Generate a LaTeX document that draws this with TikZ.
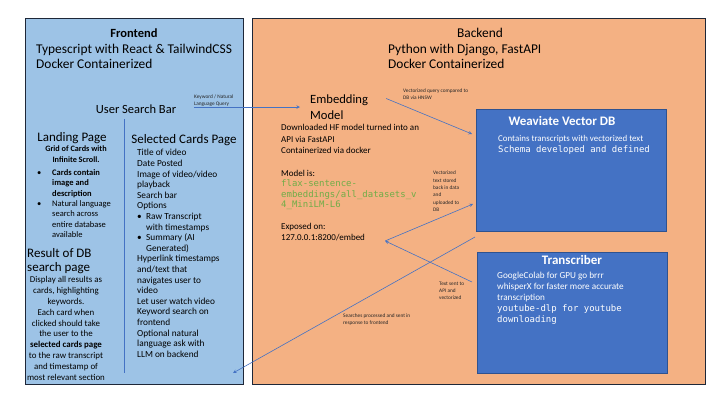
\documentclass[tikz,border=0pt]{standalone}
\usepackage{fontspec}
\setmainfont{Carlito}
\setmonofont{DejaVu Sans Mono}
\usetikzlibrary{positioning}
\usetikzlibrary{arrows}

\definecolor{frontblue}{RGB}{157,195,230}
\definecolor{backorange}{RGB}{244,177,131}
\definecolor{boxblue}{RGB}{68,114,196}
\definecolor{boxedge}{RGB}{47,82,143}
\definecolor{paneledge}{RGB}{30,39,56}
\definecolor{codegreen}{RGB}{112,173,71}

\tikzset{
  panel/.style={draw=paneledge, line width=0.9pt, inner sep=0pt, outer sep=0pt, anchor=north west},
  service/.style={draw=boxedge, fill=boxblue, line width=0.9pt, inner sep=0pt, outer sep=0pt, anchor=north west},
  flow/.style={-stealth, draw=boxblue, line width=0.6pt},
  divider/.style={draw=boxblue, line width=0.7pt},
  heading/.style={inner sep=0pt, font=\fontsize{13.4}{14.8}\selectfont},
  pagehead/.style={inner sep=0pt, font=\fontsize{13}{15}\selectfont},
  bodytext/.style={inner sep=0pt, align=left, anchor=north west, font=\fontsize{8.5}{10.6}\selectfont},
  codetext/.style={inner sep=0pt, align=left, anchor=north west, font=\ttfamily\fontsize{9}{10.5}\selectfont},
  tinytext/.style={inner sep=0pt, align=left, anchor=north west, text=black!85, font=\fontsize{5.3}{6.6}\selectfont}
}

\begin{document}
\begin{tikzpicture}[x=1pt,y=-1pt]
\useasboundingbox (0,0) rectangle (720,405);

% Frontend panel
\node[panel,
    fill=frontblue,
    minimum width=218pt,
    minimum height=366pt
    ] (frontend) at (25,18) {};

% Backend panel
\node[panel,
    fill=backorange,
    minimum width=453pt,
    minimum height=366pt
    ] (backend) at (252,18) {};

% Weaviate
\node[service,
    minimum width=190pt,
    minimum height=122pt
    ] (weaviate) at (476,109) {};

% Transcriber
\node[service,
    minimum width=190pt,
    minimum height=121pt
    ] (transcriber) at (477,252) {};

% Frontend text
\node[heading, font=\fontsize{12.5}{14}\selectfont] (fronthead) at (134,33) {\textbf{Frontend}};
\node[heading, align=left, anchor=north west] (frontsub) at (36,44.2)
    {Typescript with React \& TailwindCSS\\Docker Containerized};
\node[heading, font=\fontsize{12.5}{14}\selectfont] (searchbar) at (136,109) {User Search Bar};

% Landing page column
\node[pagehead, anchor=base] (landing) at (72,141) {Landing Page};
\node[bodytext, align=center, anchor=north, font=\bfseries\fontsize{8.2}{10.3}\selectfont] (gridnote) at (76,146)
    {Grid of Cards with\\Infinite Scroll.};
\node[bodytext, font=\fontsize{8.5}{10.3}\selectfont] (landinglist) at (37,169.5)
    {\makebox[15pt][l]{\textbullet}\textbf{Cards contain}\\
     \hspace*{15pt}\textbf{image and}\\
     \hspace*{15pt}\textbf{description}\\
     \makebox[15pt][l]{\textbullet}Natural language\\
     \hspace*{15pt}search across\\
     \hspace*{15pt}entire database\\
     \hspace*{15pt}available};

% Result page
\node[pagehead, align=left, anchor=north west, font=\fontsize{13}{14}\selectfont] (resultdb) at (27,248.5)
    {Result of DB\\search page};
\node[bodytext, align=center, anchor=north, font=\fontsize{8.9}{10.8}\selectfont] (resultnote) at (66,276.5)
    {Display all results as\\cards, highlighting\\keywords.\\Each card when\\clicked should take\\the user to the\\
     \textbf{selected cards page}\\to the raw transcript\\and timestamp of\\most relevant section};

% Selected cards column
\node[pagehead, anchor=base] (selected) at (184,143) {Selected Cards Page};
\node[bodytext, font=\fontsize{9.3}{10.6}\selectfont] (selectedlist) at (137,149.3)
    {Title of video\\Date Posted\\Image of video/video\\playback\\Search bar\\Options\\
     \makebox[9pt][l]{\textbullet}Raw Transcript\\
     \hspace*{9pt}with timestamps\\
     \makebox[9pt][l]{\textbullet}Summary (AI\\
     \hspace*{9pt}Generated)\\
     Hyperlink timestamps\\and/text that\\navigates user to\\video\\Let user watch video\\
     Keyword search on\\frontend\\Optional natural\\language ask with\\LLM on backend};

% Backend text
\node[heading] (backhead) at (480,33) {Backend};
\node[heading, align=left, anchor=north west] (backsub) at (388,44.2)
    {Python with Django, FastAPI\\Docker Containerized};

% Embedding model
\node[pagehead, align=left, anchor=north west, font=\fontsize{12.6}{16}\selectfont] (embed) at (310,94.5)
    {Embedding\\Model};
\node[bodytext, font=\fontsize{9}{11.4}\selectfont] (embedinfo) at (281,124.4)
    {Downloaded HF model turned into an\\API via FastAPI\\Containerized via docker};
\node[bodytext, font=\fontsize{9}{11}\selectfont] (modelis) at (281,170.4) {Model is:};
\node[codetext, text=codegreen] (modelname) at (281,179.6)
    {flax-sentence-\\embeddings/all\_datasets\_v\\4\_MiniLM-L6};
\node[bodytext, font=\fontsize{9}{10.5}\selectfont] (expose) at (281,223.4)
    {Exposed on:\\127.0.0.1:8200/embed};

% Weaviate text
\node[pagehead, text=white] (weavhead) at (562,121) {\textbf{Weaviate Vector DB}};
\node[bodytext, text=white, font=\fontsize{8.9}{10}\selectfont] (weavnote) at (498,135.5)
    {Contains transcripts with vectorized text};
\node[codetext, text=white] (weavschema) at (498,145.6) {Schema developed and defined};

% Transcriber text
\node[pagehead, text=white] (transhead) at (572,260) {\textbf{Transcriber}};
\node[bodytext, text=white, font=\fontsize{9.2}{10.6}\selectfont] (transnote) at (497,272.3)
    {GoogleColab for GPU go brrr\\whisperX for faster more accurate\\transcription};
\node[codetext, text=white, font=\ttfamily\fontsize{9}{11}\selectfont] (transcode) at (497,304.6)
    {youtube-dlp for youtube\\downloading};

% Connector labels
\node[tinytext] (kwlabel) at (194,94.8) {Keyword / Natural\\Language Query};
\node[tinytext] (hnswlabel) at (403,88.7) {Vectorized query compared to\\DB via HNSW};
\node[tinytext, font=\fontsize{5.3}{7.4}\selectfont] (storedlabel) at (433,170.8)
    {Vectorized\\text stored\\back in data\\and\\uploaded to\\DB};
\node[tinytext, font=\fontsize{5.3}{7}\selectfont] (sentlabel) at (439,281.8)
    {Text sent to\\API and\\vectorized};
\node[tinytext, font=\fontsize{5.3}{7}\selectfont] (searchlabel) at (343,313.8)
    {Searches processed and sent in\\response to frontend};

% Column split
\coordinate (split) at (124,119);
\draw[divider] (split) -- ([yshift=11pt]split |- frontend.south);

% Arrows
\draw[flow] ([xshift=18pt]searchbar.east |- embed.west) -- ([xshift=-10pt]embed.west);
\draw[flow] ([shift={(18pt,-4pt)}]embed.north east) -- ([shift={(-4pt,-25pt)}]weaviate.north west);
\draw[flow] ([shift={(-5pt,-30pt)}]transcriber.north west) -- ([xshift=20pt]expose.south east);
\draw[flow] ([xshift=20pt]expose.south east) -- ([shift={(-3pt,27pt)}]weaviate.south west);
\draw[flow] ([shift={(-1pt,-6pt)}]weaviate.south west) -- ([shift={(-10pt,11pt)}]frontend.south east);

\end{tikzpicture}
\end{document}
